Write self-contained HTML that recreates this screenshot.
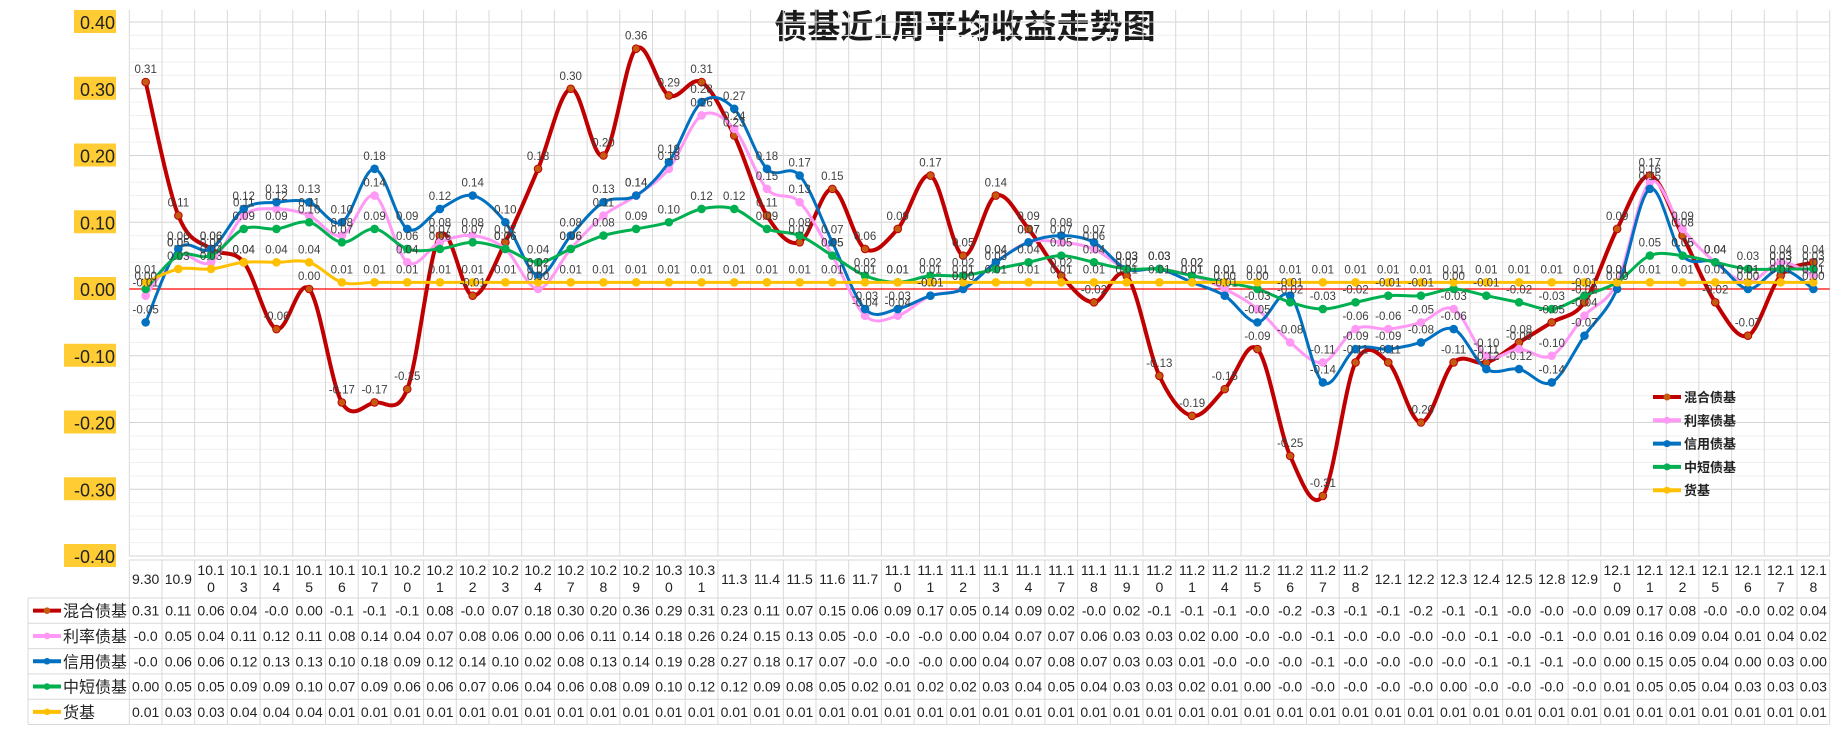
<!DOCTYPE html>
<html><head><meta charset="utf-8"><style>
html,body{margin:0;padding:0;background:#fff;}
svg{display:block;font-family:"Liberation Sans","Noto Sans CJK SC",sans-serif;}
</style></head><body>
<svg id="chart" width="1839" height="733" viewBox="0 0 1839 733" xmlns="http://www.w3.org/2000/svg">
<text x="965" y="38" text-anchor="middle" font-size="33" font-weight="bold" fill="#1a1a1a" font-family="'Liberation Sans','Noto Sans CJK SC',sans-serif">债基近1周平均收益走势图</text>
</svg>
<script>
const categories=['9.30','10.9','10.10','10.13','10.14','10.15','10.16','10.17','10.20','10.21','10.22','10.23','10.24','10.27','10.28','10.29','10.30','10.31','11.3','11.4','11.5','11.6','11.7','11.10','11.11','11.12','11.13','11.14','11.17','11.18','11.19','11.20','11.21','11.24','11.25','11.26','11.27','11.28','12.1','12.2','12.3','12.4','12.5','12.8','12.9','12.10','12.11','12.12','12.15','12.16','12.17','12.18'];
const mixedValues=[0.31,0.11,0.06,0.04,-0.06,0.00,-0.17,-0.17,-0.15,0.08,-0.01,0.07,0.18,0.30,0.20,0.36,0.29,0.31,0.23,0.11,0.07,0.15,0.06,0.09,0.17,0.05,0.14,0.09,0.02,-0.02,0.02,-0.13,-0.19,-0.15,-0.09,-0.25,-0.31,-0.11,-0.11,-0.20,-0.11,-0.11,-0.08,-0.05,-0.02,0.09,0.17,0.08,-0.02,-0.07,0.02,0.04];
const rateValues=[-0.01,0.05,0.04,0.11,0.12,0.11,0.08,0.14,0.04,0.07,0.08,0.06,0.00,0.06,0.11,0.14,0.18,0.26,0.24,0.15,0.13,0.05,-0.04,-0.04,-0.01,0.00,0.04,0.07,0.07,0.06,0.03,0.03,0.02,0.00,-0.03,-0.08,-0.11,-0.06,-0.06,-0.05,-0.03,-0.10,-0.09,-0.10,-0.04,0.01,0.16,0.09,0.04,0.01,0.04,0.02];
const creditValues=[-0.05,0.06,0.06,0.12,0.13,0.13,0.10,0.18,0.09,0.12,0.14,0.10,0.02,0.08,0.13,0.14,0.19,0.28,0.27,0.18,0.17,0.07,-0.03,-0.03,-0.01,0.00,0.04,0.07,0.08,0.07,0.03,0.03,0.01,-0.01,-0.05,-0.01,-0.14,-0.09,-0.09,-0.08,-0.06,-0.12,-0.12,-0.14,-0.07,0.00,0.15,0.05,0.04,0.00,0.03,0.00];
const shortValues=[0.00,0.05,0.05,0.09,0.09,0.10,0.07,0.09,0.06,0.06,0.07,0.06,0.04,0.06,0.08,0.09,0.10,0.12,0.12,0.09,0.08,0.05,0.02,0.01,0.02,0.02,0.03,0.04,0.05,0.04,0.03,0.03,0.02,0.01,0.00,-0.02,-0.03,-0.02,-0.01,-0.01,0.00,-0.01,-0.02,-0.03,-0.01,0.01,0.05,0.05,0.04,0.03,0.03,0.03];
const moneyValues=[0.01,0.03,0.03,0.04,0.04,0.04,0.01,0.01,0.01,0.01,0.01,0.01,0.01,0.01,0.01,0.01,0.01,0.01,0.01,0.01,0.01,0.01,0.01,0.01,0.01,0.01,0.01,0.01,0.01,0.01,0.01,0.01,0.01,0.01,0.01,0.01,0.01,0.01,0.01,0.01,0.01,0.01,0.01,0.01,0.01,0.01,0.01,0.01,0.01,0.01,0.01,0.01];
const seriesNames=['混合债基','利率债基','信用债基','中短债基','货基'];
const yTicks=[0.40,0.30,0.20,0.10,0.00,-0.10,-0.20,-0.30,-0.40];

const svg=document.getElementById('chart');
const NS='http://www.w3.org/2000/svg';
const L=129.3,R=1829.7,TOP=22,BOT=556,YMAX=0.4,YMIN=-0.4;
const n=categories.length, cw=(R-L)/n;
const xs=i=>L+cw*(i+0.5);
const ys=v=>TOP+(YMAX-v)/(YMAX-YMIN)*(BOT-TOP);
function mk(tag,attrs,parent){const e=document.createElementNS(NS,tag);for(const k in attrs)e.setAttribute(k,attrs[k]);(parent||svg).appendChild(e);return e;}

const grid=mk('g',{});


for(let k=0;k<=40;k++){const v=YMIN+k*0.02;const y=ys(v);
  mk('line',{x1:L,x2:R,y1:y,y2:y,stroke:(k%5===0)?'#d4d4d4':'#efefef','stroke-width':1},grid);}
for(let i=0;i<=n;i++){const x=L+cw*i;mk('line',{x1:x,x2:x,y1:TOP-12,y2:BOT,stroke:'#d9d9d9','stroke-width':1},grid);}
const zl=mk('line',{x1:L,x2:R,y1:ys(0),y2:ys(0),stroke:'#ff0000','stroke-width':1.2});



yTicks.forEach(v=>{const y=ys(v);const t=v.toFixed(2);const w=t.length*10+2;
  const g=mk('g',{});
  
  
  mk('rect',{x:116-w,y:y-12,width:w,height:23,fill:'#ffcc33'},g);
  const tx=mk('text',{x:115,y:y+7,'text-anchor':'end','font-size':18,fill:'#222'},g);tx.textContent=t;});

const series=[
 {vals:mixedValues,color:'#c00000',w:4,mfill:'#c55a11',key:'mixed'},
 {vals:rateValues,color:'#ff99f5',w:3,mfill:'#ff99f5',key:'rate'},
 {vals:creditValues,color:'#0070c0',w:3,mfill:'#0070c0',key:'credit'},
 {vals:shortValues,color:'#00b050',w:3,mfill:'#00b050',key:'short'},
 {vals:moneyValues,color:'#ffc000',w:3,mfill:'#ffc000',key:'money'}];

function smooth(pts){let d='M'+pts[0][0]+','+pts[0][1];
  for(let i=0;i<pts.length-1;i++){const p0=pts[Math.max(0,i-1)],p1=pts[i],p2=pts[i+1],p3=pts[Math.min(pts.length-1,i+2)];
    const c1=[p1[0]+(p2[0]-p0[0])/6,p1[1]+(p2[1]-p0[1])/6],c2=[p2[0]-(p3[0]-p1[0])/6,p2[1]-(p3[1]-p1[1])/6];
    d+=' C'+c1[0]+','+c1[1]+' '+c2[0]+','+c2[1]+' '+p2[0]+','+p2[1];}
  return d;}

series.forEach(s=>{
  const g=mk('g',{});
  
  
  const pts=s.vals.map((v,i)=>[xs(i),ys(v)]);
  const p=mk('path',{d:smooth(pts),fill:'none',stroke:s.color,'stroke-width':s.w,'stroke-linejoin':'round'},g);
  
  
  pts.forEach(q=>{const c=mk('circle',{cx:q[0],cy:q[1],r:3.8,fill:s.mfill,stroke:s.color,'stroke-width':1},g);
    
    });
});
const lg=mk('g',{});


series.forEach(s=>{s.vals.forEach((v,i)=>{const t=mk('text',{x:xs(i),y:ys(v)-9,'text-anchor':'middle','font-size':11.5,fill:'#404040'},lg);t.textContent=v.toFixed(2);});});

// legend
const leg=mk('g',{});


series.forEach((s,k)=>{const y=397+k*23.3;const e=mk('g',{},leg);
  
  
  mk('line',{x1:1653,x2:1681,y1:y,y2:y,stroke:s.color,'stroke-width':4},e);
  mk('circle',{cx:1667,cy:y,r:3.5,fill:s.mfill},e);
  const t=mk('text',{x:1684,y:y+5,'font-size':13,'font-weight':'bold',fill:'#222'},e);t.textContent=seriesNames[k];});

// data table
const tb=mk('g',{});


const HT=560,HB=598,RH=25.3,TL=28;
mk('line',{x1:L,x2:R,y1:HT,y2:HT,stroke:'#d9d9d9'},tb);
for(let r=0;r<=5;r++){const y=HB+r*RH;mk('line',{x1:(r===0?TL:TL),x2:R,y1:y,y2:y,stroke:'#d9d9d9'},tb);}
for(let i=0;i<=n;i++){const x=L+cw*i;mk('line',{x1:x,x2:x,y1:HT,y2:HB+5*RH,stroke:'#d9d9d9'},tb);}
mk('line',{x1:TL,x2:TL,y1:HB,y2:HB+5*RH,stroke:'#d9d9d9'},tb);
categories.forEach((c,i)=>{const x=xs(i);
  if(c.length>4){const t1=mk('text',{x:x,y:575,'text-anchor':'middle','font-size':14,fill:'#222'},tb);t1.textContent=c.slice(0,4);
    const t2=mk('text',{x:x,y:592,'text-anchor':'middle','font-size':14,fill:'#222'},tb);t2.textContent=c.slice(4);}
  else{const t=mk('text',{x:x,y:584,'text-anchor':'middle','font-size':14,fill:'#222'},tb);t.textContent=c;}});
series.forEach((s,k)=>{const cy=HB+k*RH+RH/2;
  mk('line',{x1:33,x2:61,y1:cy,y2:cy,stroke:s.color,'stroke-width':4},tb);
  mk('circle',{cx:47,cy:cy,r:3.3,fill:s.mfill},tb);
  const nm=mk('text',{x:63,y:cy+6,'font-size':16,fill:'#222'},tb);nm.textContent=seriesNames[k];
  s.vals.forEach((v,i)=>{let t=v.toFixed(2);if(t.length>4)t=t.slice(0,4);
    const tx=mk('text',{x:xs(i),y:cy+5,'text-anchor':'middle','font-size':14,fill:'#222'},tb);tx.textContent=t;});});
</script>
</body></html>
